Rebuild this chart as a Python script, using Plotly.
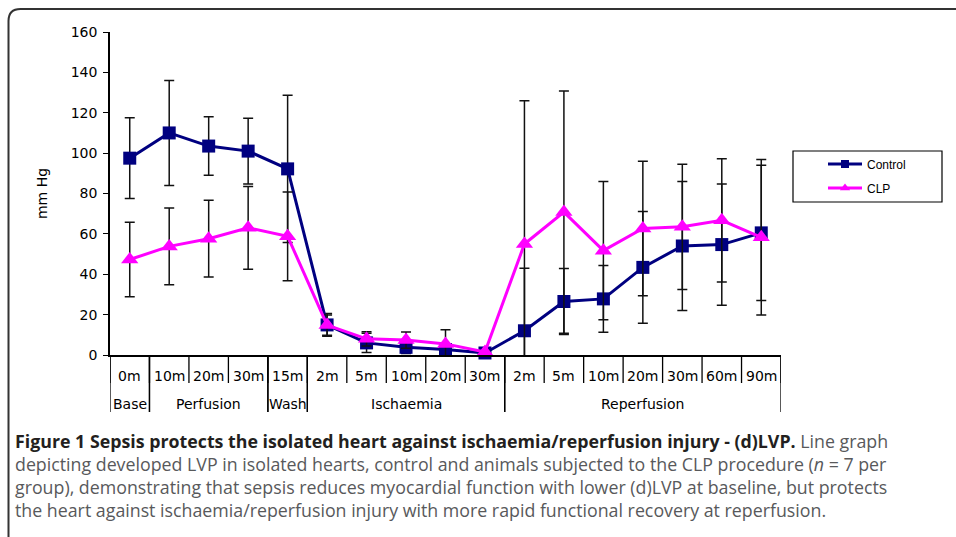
import plotly.graph_objects as go

# ---- data ----
groups = ["Base", "Perfusion", "Perfusion", "Perfusion", "Wash",
          "Ischaemia", "Ischaemia", "Ischaemia", "Ischaemia", "Ischaemia",
          "Reperfusion", "Reperfusion", "Reperfusion", "Reperfusion",
          "Reperfusion", "Reperfusion", "Reperfusion"]
labels = ["0m", "10m", "20m", "30m", "15m", "2m", "5m", "10m", "20m", "30m",
          "2m", "5m", "10m", "20m", "30m", "60m", "90m"]
control = [97.5, 110, 103.5, 101, 92.2, 14.9, 6, 3.8, 2.7, 1.0,
           12, 26.5, 27.8, 43.4, 54, 54.7, 60.5]
control_err = [20, 26, 14.5, 16.3, 36.5, 5.6, 4.8, 3, 2, 0.5,
               31, 16.3, 16.5, 27.7, 32, 30, 33.5]
clp = [47.3, 53.8, 57.6, 63, 58.8, 14.8, 8, 7.4, 5.5, 1.5,
       55, 70.8, 51.7, 62.7, 63.5, 66.7, 58.3]
clp_err = [18.4, 19, 19, 20.5, 22, 5, 3.5, 4, 7, 0.5,
           71, 60, 34.3, 33.3, 31, 30.5, 38.5]
y_ticks = [0, 20, 40, 60, 80, 100, 120, 140, 160]

caption_lines = [
    "<span style='color:#231f20'><b>Figure 1 Sepsis protects the isolated heart against ischaemia/reperfusion injury - (d)LVP.</b></span> Line graph",
    "depicting developed LVP in isolated hearts, control and animals subjected to the CLP procedure (<i>n</i> = 7 per",
    "group), demonstrating that sepsis reduces myocardial function with lower (d)LVP at baseline, but protects",
    "the heart against ischaemia/reperfusion injury with more rapid functional recovery at reperfusion.",
]

NAVY = "#000080"
MAGENTA = "#FF00FF"

W, H = 956, 537
L, R, T, B = 110, 175, 32, 182
PW, PH = W - L - R, H - T - B


def px(xp):
    return (xp - L) / PW


def py(yp):
    return (T + PH - yp) / PH


xs = list(range(len(labels)))

fig = go.Figure()
fig.add_trace(go.Scatter(
    x=xs, y=control, mode="lines+markers", name="Control", showlegend=False,
    line=dict(color=NAVY, width=3),
    marker=dict(symbol="square", size=13, color=NAVY),
    error_y=dict(type="data", array=control_err, visible=True,
                 color="#111111", thickness=1.5, width=5),
    cliponaxis=False,
))
fig.add_trace(go.Scatter(
    x=xs, y=clp, mode="lines+markers", name="CLP", showlegend=False,
    line=dict(color=MAGENTA, width=3),
    marker=dict(symbol="triangle-up", size=15, color=MAGENTA),
    error_y=dict(type="data", array=clp_err, visible=True,
                 color="#111111", thickness=1.5, width=5),
    cliponaxis=False,
))
# legend entries
fig.add_trace(go.Scatter(x=[None], y=[None], mode="lines+markers", name="Control",
                         legendgroup="a",
                         line=dict(color=NAVY, width=3),
                         marker=dict(symbol="square", size=8, color=NAVY)))
fig.add_trace(go.Scatter(x=[None], y=[None], mode="lines+markers", name="CLP",
                         legendgroup="b",
                         line=dict(color=MAGENTA, width=3),
                         marker=dict(symbol="triangle-up", size=9, color=MAGENTA)))

shapes = []
annotations = []

# inner separators
n = len(labels)
for i in range(n + 1):
    shapes.append(dict(type="line", xref="x", yref="paper",
                       x0=i - 0.5, x1=i - 0.5, y0=0, y1=py(383),
                       line=dict(color="black", width=1.3)))
# group separators & labels
starts = [0] + [i for i in range(1, n) if groups[i] != groups[i - 1]]
ends = starts[1:] + [n]
for s, e in zip(starts, ends):
    for b in (s - 0.5, e - 0.5):
        shapes.append(dict(type="line", xref="x", yref="paper",
                           x0=b, x1=b, y0=0, y1=py(412),
                           line=dict(color="black", width=1.3)))
    annotations.append(dict(x=(s + e - 1) / 2, y=py(404), xref="x", yref="paper",
                            text=groups[s], showarrow=False, xanchor="center",
                            yanchor="middle",
                            font=dict(family="DejaVu Sans", size=14, color="black")))
for i, lab in enumerate(labels):
    annotations.append(dict(x=i, y=py(376), xref="x", yref="paper",
                            text=lab, showarrow=False, xanchor="center",
                            yanchor="middle",
                            font=dict(family="DejaVu Sans", size=14, color="black")))

# legend box
shapes.append(dict(type="rect", xref="paper", yref="paper",
                   x0=px(793), x1=px(942), y0=py(202), y1=py(151),
                   line=dict(color="black", width=1.2), fillcolor="rgba(0,0,0,0)"))

# outer rounded border
r = 12
lx, ty, by, rx = 8.5, 9, 548, 1000
path = (f"M {px(lx + r)},{py(by)} Q {px(lx)},{py(by)} {px(lx)},{py(by - r)} "
        f"L {px(lx)},{py(ty + r)} Q {px(lx)},{py(ty)} {px(lx + r)},{py(ty)} "
        f"L {px(rx)},{py(ty)}")
shapes.append(dict(type="path", xref="paper", yref="paper", path=path,
                   line=dict(color="#333333", width=2)))

# caption (one multi-line block)
annotations.append(dict(x=px(13), y=py(475), xref="paper", yref="paper",
                        text="<br>".join(caption_lines), showarrow=False,
                        xanchor="left", yanchor="middle", align="left",
                        font=dict(family="Open Sans", size=17.8, color="#58595b")))

fig.update_layout(
    width=W, height=H,
    margin=dict(l=L, r=R, t=T, b=B, pad=0),
    paper_bgcolor="white", plot_bgcolor="white",
    showlegend=True,
    legend=dict(x=px(823), y=py(149.5), xanchor="left", yanchor="top",
                bgcolor="rgba(0,0,0,0)", borderwidth=0,
                tracegroupgap=5, itemwidth=34,
                font=dict(family="Liberation Sans", size=12, color="black")),
    xaxis=dict(range=[-0.5, n - 0.5], showticklabels=False, ticks="",
               showgrid=False, zeroline=False, showline=True,
               linecolor="black", linewidth=1.5),
    yaxis=dict(range=[0, 160], tickvals=y_ticks, ticks="outside", ticklen=5,
               tickcolor="black", tickwidth=1.2, ticklabelstandoff=3,
               showgrid=False, zeroline=False, showline=True,
               linecolor="black", linewidth=1.5,
               tickfont=dict(family="DejaVu Sans", size=14, color="black"),
               title=dict(text="mm Hg", standoff=20,
                          font=dict(family="DejaVu Sans", size=14, color="black"))),
    shapes=shapes,
    annotations=annotations,
)

fig.write_html("out.html", config={"displayModeBar": False},
               post_script="document.body.style.margin='0';document.body.style.overflow='hidden';")
